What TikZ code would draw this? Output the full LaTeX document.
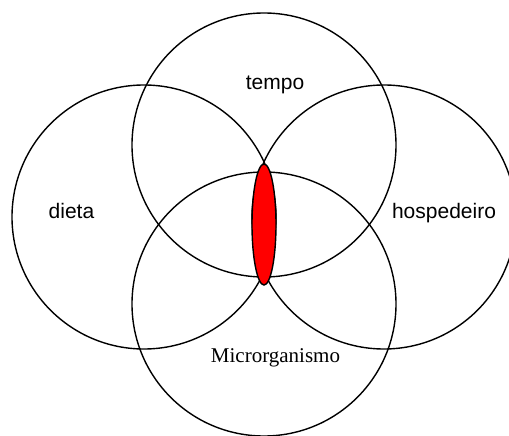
\documentclass[tikz,border=0pt]{standalone}
\usepackage{fontspec}
\setmainfont{Liberation Serif}
\newfontfamily\arialfont{Liberation Sans}
\begin{document}
\begin{tikzpicture}[x=1pt,y=-1pt,
  ring/.style={draw=black,line width=1.4pt,circle,minimum size=264pt,inner sep=0pt},
  lab/.style={font=\arialfont\fontsize{21}{25}\selectfont,anchor=base,inner sep=0pt},
  labserif/.style={font=\fontsize{21}{25}\selectfont,anchor=base,inner sep=0pt}]
\useasboundingbox (0,0) rectangle (509,436);
\node[ring] (tempo) at (264,145) {};
\node[ring] (dieta) at (144,217) {};
\node[ring] (hosp) at (384,217) {};
\node[ring] (micro) at (264,304) {};
\draw[line width=1.4pt,fill=red] (264,224.5) ellipse [x radius=12, y radius=60.5];
\node[lab] (ttempo) at (275,89) {tempo};
\node[lab] (tdieta) at (71.5,218) {dieta};
\node[lab] (thosp) at (444,218) {hospedeiro};
\node[labserif] (tmicro) at (275.5,362) {Microrganismo};
\end{tikzpicture}
\end{document}
